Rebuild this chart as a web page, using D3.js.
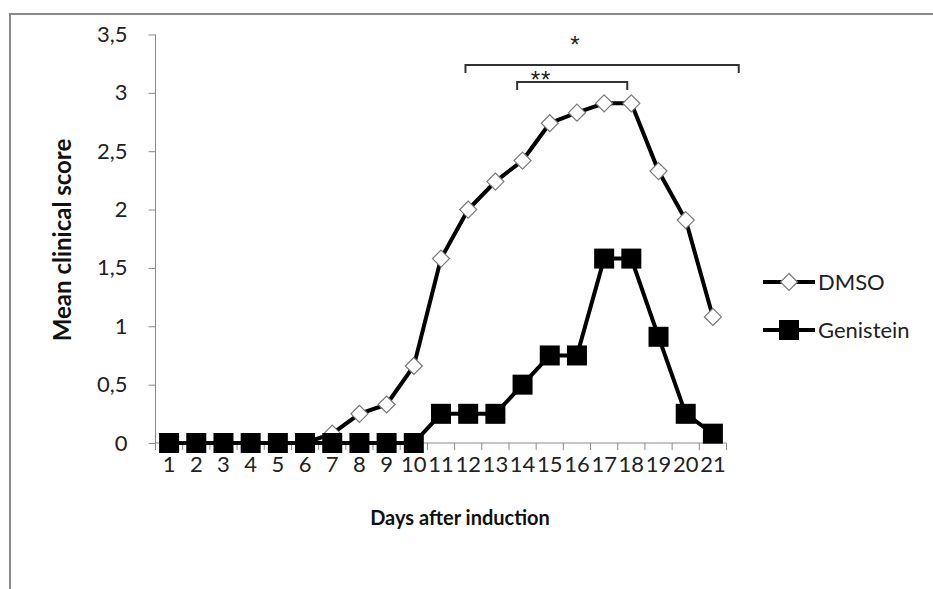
<!DOCTYPE html>
<html><head><meta charset="utf-8">
<script src="https://cdn.jsdelivr.net/npm/d3@7/dist/d3.min.js"></script>
<style>body{margin:0;background:#fff}svg{display:block}</style>
</head><body><svg id="c" width="933" height="589"></svg>
<script>
const days = ["1","2","3","4","5","6","7","8","9","10","11","12","13","14","15","16","17","18","19","20","21"];
const dmso = [0,0,0,0,0,0,0.08,0.25,0.33,0.66,1.58,2.0,2.24,2.42,2.74,2.83,2.91,2.91,2.33,1.91,1.08];
const genistein = [0,0,0,0,0,0,0,0,0,0,0.25,0.25,0.25,0.5,0.75,0.75,1.58,1.58,0.91,0.25,0.08];
const yTicks = [0,0.5,1,1.5,2,2.5,3,3.5];
const seriesNames = ["DMSO","Genistein"];
// significance brackets: [fromDay, toDay, label]
const brackets = [[11.9, 21.95, "*"], [13.8, 17.85, "**"]];

const svg = d3.select("#c");
const font = "Lato, 'Open Sans', sans-serif";
// frame
svg.append("path").attr("d","M10,589 V14 H933").attr("fill","none").attr("stroke","#8a8a8a").attr("stroke-width",2);

const x = d3.scaleBand().domain(days).range([155.5,726.5]).padding(0);
const y = d3.scaleLinear().domain([0,3.5]).range([443,34.5]);
const cx = d => x(d) + x.bandwidth()/2;
const xf = v => x("1") + x.bandwidth()/2 + (v-1)*x.bandwidth();

const yAxis = svg.append("g").attr("transform","translate(155.5,0)")
  .call(d3.axisLeft(y).tickValues(yTicks).tickSize(7).tickPadding(21).tickFormat(d => String(d).replace(".",",")));
yAxis.select(".domain").attr("stroke","#8a8a8a").attr("d","M0,34.5V443");
yAxis.selectAll(".tick line").attr("stroke","#8a8a8a");
yAxis.selectAll("text").attr("font-family",font).attr("font-size",22).attr("fill","#222");

const xAxis = svg.append("g").attr("transform","translate(0,443)")
  .call(d3.axisBottom(x).tickSize(0).tickPadding(13));
xAxis.select(".domain").attr("stroke","#8a8a8a").attr("d","M155.5,0H726.5");
xAxis.selectAll("text").attr("font-family",font).attr("font-size",22).attr("fill","#222").attr("dy","0.71em");
const bounds = days.map(d => x(d)).concat([x(days[days.length-1]) + x.bandwidth()]);
xAxis.selectAll(".bt").data(bounds).enter().append("line")
  .attr("x1",d=>d).attr("x2",d=>d).attr("y1",0).attr("y2",7).attr("stroke","#8a8a8a");

const line = d3.line().x((d,i)=>cx(days[i])).y(d=>y(d));
svg.append("path").datum(dmso).attr("d",line).attr("fill","none").attr("stroke","#000").attr("stroke-width",4);
svg.append("path").datum(genistein).attr("d",line).attr("fill","none").attr("stroke","#000").attr("stroke-width",4);

const diamond = (s) => `M0,${-s}L${s},0L0,${s}L${-s},0Z`;
svg.selectAll(".dm").data(dmso).enter().append("path")
  .attr("transform",(d,i)=>`translate(${cx(days[i])},${y(d)})`)
  .attr("d",diamond(8.5)).attr("fill","#fff").attr("stroke","#777").attr("stroke-width",1.2);
svg.selectAll(".gs").data(genistein).enter().append("rect")
  .attr("x",(d,i)=>cx(days[i])-10).attr("y",d=>y(d)-10).attr("width",20).attr("height",20).attr("fill","#000");

// brackets
const by = [65, 82];
brackets.forEach((b,i)=>{
  const x1 = xf(b[0]), x2 = xf(b[1]), yy = by[i];
  svg.append("path").attr("d",`M${x1},${yy+8}V${yy}H${x2}V${yy+8}`).attr("fill","none").attr("stroke","#333").attr("stroke-width",2);
});
const starFont = "'Liberation Sans', Arial, sans-serif";
svg.append("text").attr("x",575).attr("y",53).attr("text-anchor","middle")
  .attr("font-family",starFont).attr("font-size",24).attr("fill","#222").text(brackets[0][2]);
svg.append("text").attr("x",541).attr("y",88).attr("text-anchor","middle")
  .attr("font-family",starFont).attr("font-size",24).attr("letter-spacing",1).attr("fill","#222").text(brackets[1][2]);

// axis titles
svg.append("text").attr("transform","translate(71,240) rotate(-90)").attr("text-anchor","middle")
  .attr("font-family",font).attr("font-size",24).attr("font-weight","bold").attr("fill","#111").text("Mean clinical score");
svg.append("text").attr("x",460).attr("y",525).attr("text-anchor","middle")
  .attr("font-family",font).attr("font-size",20).attr("font-weight","bold").attr("fill","#111").text("Days after induction");

// legend
const lg = svg.append("g");
[282,330].forEach((ly,i)=>{
  lg.append("line").attr("x1",763).attr("x2",815).attr("y1",ly).attr("y2",ly).attr("stroke","#000").attr("stroke-width",4);
  if(i===0) lg.append("path").attr("transform",`translate(789,${ly})`).attr("d",diamond(8.5)).attr("fill","#fff").attr("stroke","#777").attr("stroke-width",1.2);
  else lg.append("rect").attr("x",779).attr("y",ly-10).attr("width",20).attr("height",20).attr("fill","#000");
  lg.append("text").attr("x",818).attr("y",ly).attr("dy","0.35em").attr("font-family",font).attr("font-size",22).attr("fill","#222").text(seriesNames[i]);
});
</script></body></html>
